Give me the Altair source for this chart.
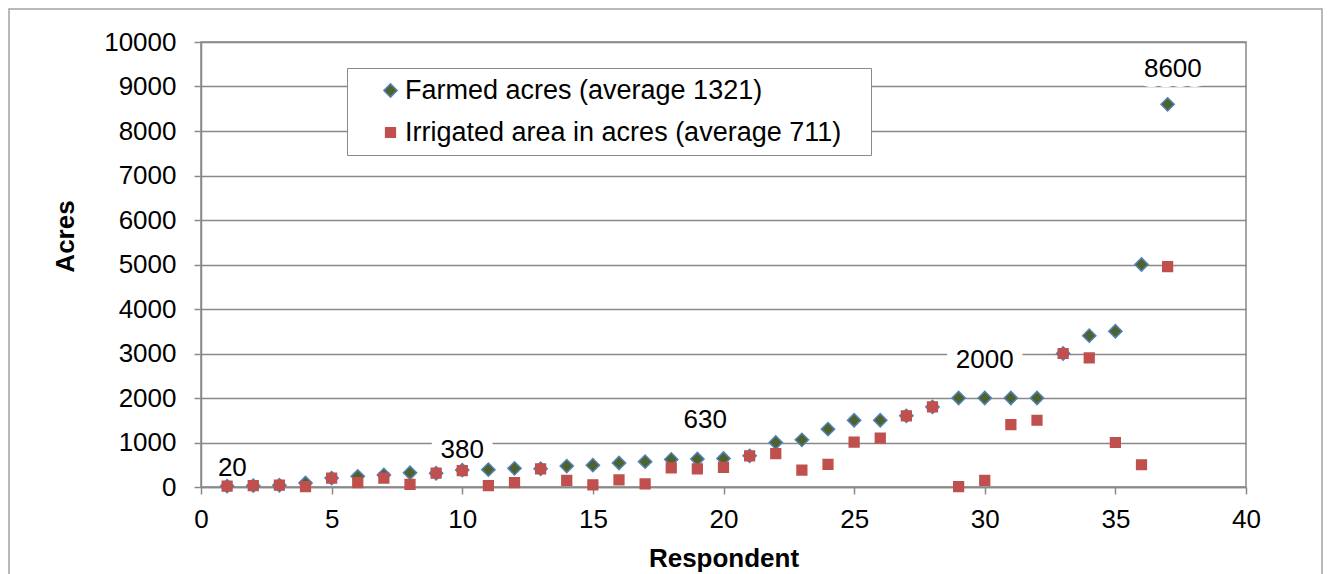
import altair as alt
import pandas as pd

# ---- data ----
respondent = list(range(1, 38))
farmed = [20, 30, 40, 90, 200, 240, 270, 320, 310, 380, 390, 420, 410, 470, 490,
          540, 570, 620, 630, 640, 700, 1000, 1060, 1300, 1500, 1500, 1600, 1800,
          2000, 2000, 2000, 2000, 3000, 3400, 3500, 5000, 8600]
irrigated = [20, 30, 40, 10, 200, 100, 200, 60, 310, 370, 30, 100, 410, 150, 50,
             160, 70, 430, 410, 440, 700, 750, 380, 510, 1010, 1100, 1600, 1800,
             10, 150, 1400, 1500, 3000, 2900, 1000, 500, 4950]
series_names = ["Farmed acres (average 1321)", "Irrigated area in acres (average 711)"]
fill_colors = ["#4F6228", "#C0504D"]
stroke_colors = ["#4F81BD", "#C0504D"]
shapes = ["diamond", "square"]
sizes = [175, 95]

label_text = ["20", "380", "630", "2000", "8600"]
label_x = [1.2, 10, 19.3, 30, 37.2]
label_y = [427, 831, 1500, 2854, 9393]

x_ticks = list(range(0, 41, 5))
y_ticks = list(range(0, 10001, 1000))

GRID = "#898989"
FONT_SIZE = 26
LEGEND_FONT = 27
BLANK = "\u2800"  # blank glyph that is not trimmed, widens the legend box on the right

df = pd.DataFrame({
    "respondent": respondent * 2,
    "acres": farmed + irrigated,
    "series": [series_names[0]] * len(farmed) + [series_names[1]] * len(irrigated),
})
labels_df = pd.DataFrame({"respondent": label_x, "acres": label_y, "text": label_text})
frame_df = pd.DataFrame({"k": [0]})

x_axis = alt.Axis(values=x_ticks, grid=False, title="Respondent", labelFlush=False, format="d",
                  labelFontSize=FONT_SIZE, labelColor="black", labelPadding=12,
                  tickSize=7, tickColor=GRID, tickWidth=1.5, domainColor=GRID, domainWidth=1.5,
                  titleFontSize=FONT_SIZE, titleFontWeight="bold", titleColor="black",
                  titleY=79, titleBaseline="alphabetic")
y_axis = alt.Axis(values=y_ticks, grid=True, gridColor=GRID, gridWidth=1.5, title="Acres", format="d",
                  labelFontSize=FONT_SIZE, labelColor="black", labelPadding=18,
                  tickSize=7, tickColor=GRID, tickWidth=1.5, domainColor=GRID, domainWidth=1.5,
                  titleFontSize=FONT_SIZE, titleFontWeight="bold", titleColor="black",
                  titleX=-128, titleY=194, titleAlign="center", titleBaseline="alphabetic",
                  labelOverlap=False)

x_enc = alt.X("respondent:Q", scale=alt.Scale(domain=[0, 40], nice=False, zero=False), axis=x_axis)
y_enc = alt.Y("acres:Q", scale=alt.Scale(domain=[0, 10000], nice=False), axis=y_axis)

legend = alt.Legend(orient="none", legendX=146, legendY=26, title=" ", titleOrient="left",
                    titlePadding=21, titleFontSize=FONT_SIZE, padding=9, rowPadding=14,
                    labelFontSize=LEGEND_FONT, labelColor="black", labelOffset=1, labelLimit=0,
                    labelExpr="datum.label + '" + BLANK + "'",
                    strokeColor=GRID, fillColor="white", cornerRadius=0,
                    symbolStrokeWidth=1.5, symbolOpacity=1)

points = alt.Chart(df).mark_point(filled=True, opacity=1, strokeWidth=1.5).encode(
    x=x_enc,
    y=y_enc,
    color=alt.Color("series:N", scale=alt.Scale(domain=series_names, range=fill_colors), legend=legend),
    stroke=alt.Stroke("series:N", scale=alt.Scale(domain=series_names, range=stroke_colors), legend=legend),
    shape=alt.Shape("series:N", scale=alt.Scale(domain=series_names, range=shapes), legend=legend),
    size=alt.Size("series:N", scale=alt.Scale(domain=series_names, range=sizes), legend=legend),
)

halo = alt.Chart(labels_df).mark_text(fontSize=FONT_SIZE, fill="white", stroke="white",
                                      strokeWidth=20, strokeJoin="round",
                                      align="center", baseline="middle").encode(
    x=x_enc, y=y_enc, text="text:N")

labels = alt.Chart(labels_df).mark_text(fontSize=FONT_SIZE, color="black",
                                        align="center", baseline="middle").encode(
    x=x_enc, y=y_enc, text="text:N")

frame = alt.Chart(frame_df).mark_rect(fillOpacity=0, stroke="#a3a3a3", strokeWidth=1.5).encode(
    x=alt.value(-192), x2=alt.value(1045 + 76), y=alt.value(-33), y2=alt.value(445 + 150))

chart = alt.layer(frame, halo, points, labels).properties(
    width=1045, height=445,
    padding={"left": 193, "top": 34, "right": 77, "bottom": 87},
    autosize=alt.AutoSizeParams(type="none"),
).configure(font="Liberation Sans").configure_view(stroke=GRID, strokeWidth=1.5)

chart.save("out.html", embed_options={"renderer": "svg", "actions": False})
